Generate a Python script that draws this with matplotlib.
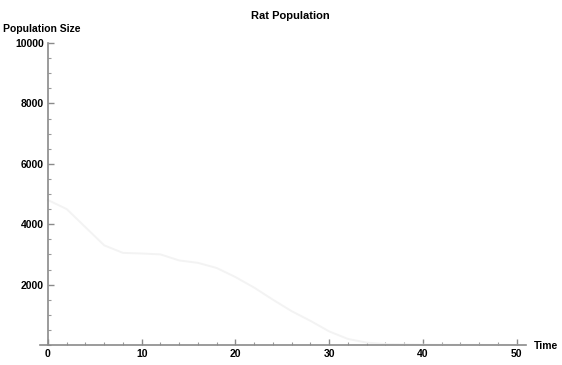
import matplotlib
matplotlib.use("Agg")
import matplotlib.pyplot as plt
from matplotlib.ticker import MultipleLocator

# Data
time = [0, 2, 4, 6, 8, 10, 12, 14, 16, 18, 20, 22, 24, 26, 28, 30, 32, 34, 36, 40, 45, 50]
population = [4800, 4500, 3900, 3300, 3050, 3030, 3000, 2800, 2720, 2550, 2250, 1900, 1500, 1120, 800, 450, 200, 80, 30, 10, 5, 0]

x_ticks = [0, 10, 20, 30, 40, 50]
y_ticks = [2000, 4000, 6000, 8000, 10000]

plt.rcParams['font.family'] = ['Liberation Sans', 'DejaVu Sans']

fig = plt.figure(figsize=(5.62, 3.65), dpi=100)
ax = fig.add_axes([40/562, 20/365, 486/562, 302/365])

ax.plot(time, population, color='#f3f3f3', lw=1.4)

ax.set_xlim(-0.85, 51)
ax.set_ylim(0, 10000)

for s in ['top', 'right']:
    ax.spines[s].set_visible(False)
ax.spines['left'].set_position(('data', 0))
ax.spines['left'].set_color('#8a8a8a')
ax.spines['bottom'].set_color('#8a8a8a')
ax.spines['left'].set_linewidth(1.2)
ax.spines['bottom'].set_linewidth(1.2)

ax.set_xticks(x_ticks)
ax.set_yticks(y_ticks)
ax.set_yticklabels([str(v) for v in y_ticks])
ax.xaxis.set_minor_locator(MultipleLocator(2))
ax.yaxis.set_minor_locator(MultipleLocator(500))
ax.tick_params(axis='both', which='major', direction='in', length=4, width=1,
               color='#8a8a8a', labelsize=7.5, pad=3)
ax.tick_params(axis='both', which='minor', direction='in', length=2, width=0.8,
               color='#9a9a9a')
for lab in ax.get_xticklabels() + ax.get_yticklabels():
    lab.set_fontweight('bold')

fig.text(290/562, 1 - 16/365, 'Rat Population', ha='center', va='center',
         fontsize=8, fontweight='bold')
fig.text(3/562, 1 - 29/365, 'Population Size', ha='left', va='center',
         fontsize=7.5, fontweight='bold')
fig.text(534/562, 1 - 346/365, 'Time', ha='left', va='center',
         fontsize=7.5, fontweight='bold')

fig.savefig('out.png', dpi=100)
